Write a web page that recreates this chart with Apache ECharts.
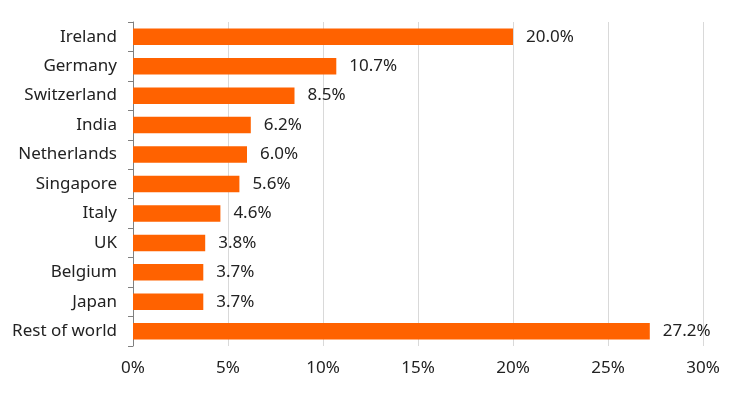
<!DOCTYPE html>
<html>
<head>
<meta charset="utf-8">
<script src="https://cdn.jsdelivr.net/npm/echarts@6/dist/echarts.min.js"></script>
<style>html,body{margin:0;padding:0;background:#fff;}#c{width:744px;height:395px;}</style>
</head>
<body>
<div id="c"></div>
<script>
var categories = ["Ireland","Germany","Switzerland","India","Netherlands","Singapore","Italy","UK","Belgium","Japan","Rest of world"];
var values = [20.0,10.7,8.5,6.2,6.0,5.6,4.6,3.8,3.7,3.7,27.2];
var xTicks = [0,5,10,15,20,25,30];

var chart = echarts.init(document.getElementById('c'));
var font = '"Noto Sans", "Open Sans", sans-serif';
chart.setOption({
  animation: false,
  grid: {left: 133, right: 41, top: 22, bottom: 49, containLabel: false},
  xAxis: {
    type: 'value', min: xTicks[0], max: xTicks[xTicks.length-1], interval: 5,
    axisLine: {show: false}, axisTick: {show: false},
    splitLine: {show: true, lineStyle: {color: '#d9d9d9', width: 1}},
    axisLabel: {formatter: '{value}%', color: '#222', fontSize: 17, fontFamily: font, margin: 14}
  },
  yAxis: {
    type: 'category', data: categories, inverse: true,
    axisLine: {show: true, lineStyle: {color: '#808080', width: 1}},
    axisTick: {show: true, length: 5, lineStyle: {color: '#808080'}},
    axisLabel: {color: '#222', fontSize: 17, fontFamily: font, margin: 16, padding: [1, 0, 0, 0]}
  },
  series: [{
    type: 'bar', data: values, barWidth: '56%',
    itemStyle: {color: '#FF6200'},
    label: {show: true, position: 'right', distance: 13, color: '#222', fontSize: 17, fontFamily: font,
      offset: [0, 0],
      formatter: function(p){ return p.value.toFixed(1) + '%'; }}
  }]
});
</script>
</body>
</html>
